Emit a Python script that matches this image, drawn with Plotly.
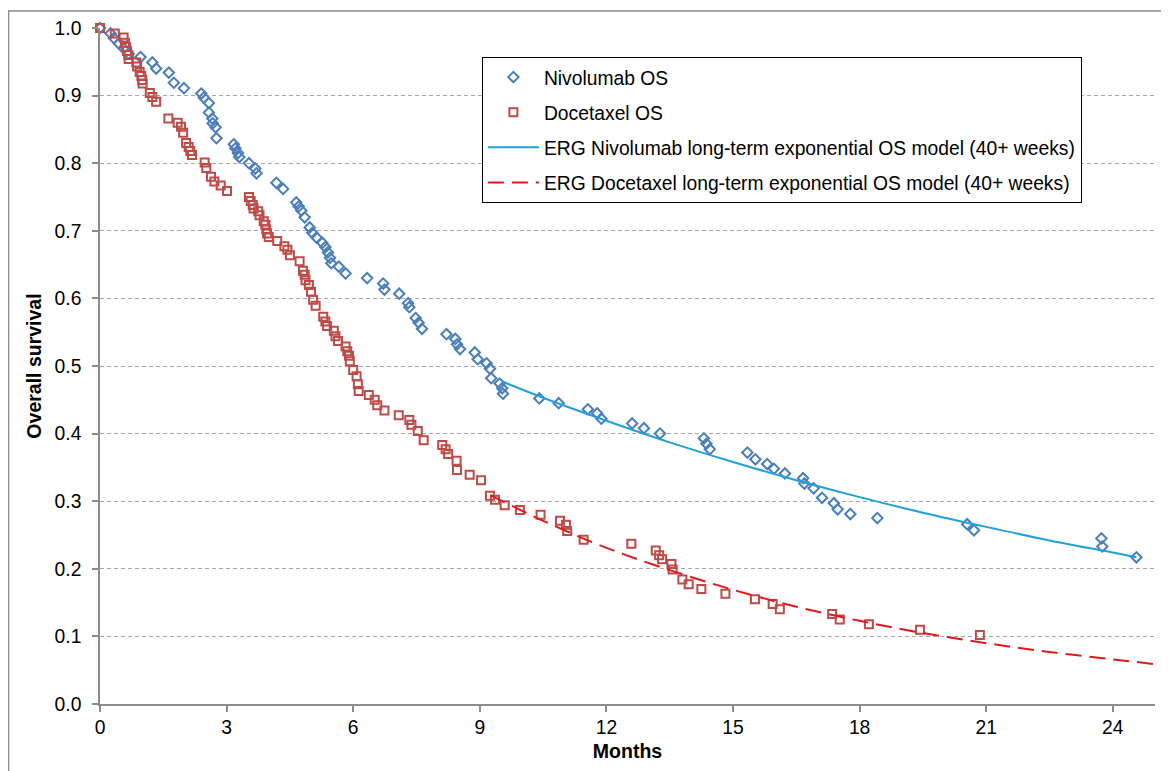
import plotly.graph_objects as go

# ---- data ----
niv_months = [0, 0.25, 0.33, 0.45, 0.56, 0.68, 0.96, 1.24, 1.33, 1.63,
              1.75, 1.99, 2.40, 2.46, 2.58, 2.58, 2.66, 2.67, 2.74, 2.76,
              3.17, 3.21, 3.27, 3.30, 3.53, 3.68, 3.71, 4.18, 4.34, 4.65,
              4.71, 4.77, 4.85, 4.97, 5.03, 5.13, 5.27, 5.34, 5.40, 5.45,
              5.48, 5.66, 5.82, 6.33, 6.71, 6.74, 7.09, 7.30, 7.33, 7.48,
              7.55, 7.63, 8.21, 8.42, 8.46, 8.53, 8.88, 8.95, 9.16, 9.24,
              9.27, 9.47, 9.53, 9.55, 10.41, 10.87, 11.56, 11.78, 11.88, 12.61,
              12.89, 13.27, 14.31, 14.37, 14.45, 15.34, 15.53, 15.81, 15.97, 16.23,
              16.66, 16.69, 16.91, 17.11, 17.39, 17.48, 17.78, 18.42, 20.55, 20.71,
              23.73, 23.75, 24.56]
niv_surv = [1.0, 0.992, 0.985, 0.977, 0.970, 0.962, 0.957, 0.949, 0.940, 0.934,
            0.919, 0.911, 0.903, 0.897, 0.889, 0.875, 0.866, 0.859, 0.853, 0.837,
            0.828, 0.822, 0.815, 0.809, 0.800, 0.792, 0.785, 0.771, 0.762, 0.742,
            0.736, 0.730, 0.720, 0.705, 0.697, 0.690, 0.682, 0.676, 0.668, 0.660,
            0.652, 0.647, 0.637, 0.630, 0.622, 0.613, 0.607, 0.593, 0.587, 0.571,
            0.564, 0.555, 0.547, 0.540, 0.532, 0.525, 0.520, 0.510, 0.504, 0.496,
            0.482, 0.474, 0.467, 0.459, 0.452, 0.445, 0.436, 0.430, 0.422, 0.415,
            0.408, 0.400, 0.393, 0.385, 0.377, 0.372, 0.362, 0.355, 0.348, 0.341,
            0.334, 0.326, 0.319, 0.305, 0.297, 0.288, 0.281, 0.275, 0.266, 0.257,
            0.245, 0.233, 0.217]

doc_months = [0, 0.35, 0.56, 0.59, 0.62, 0.64, 0.67, 0.68, 0.86, 0.88,
              0.94, 0.98, 1.00, 1.01, 1.18, 1.24, 1.33, 1.62, 1.84, 1.92,
              1.97, 2.04, 2.10, 2.14, 2.18, 2.48, 2.52, 2.63, 2.71, 2.86,
              3.01, 3.53, 3.57, 3.62, 3.64, 3.75, 3.78, 3.88, 3.92, 3.94,
              3.96, 4.00, 4.20, 4.37, 4.44, 4.50, 4.73, 4.81, 4.85, 4.87,
              4.95, 5.00, 5.05, 5.11, 5.29, 5.34, 5.38, 5.54, 5.58, 5.64,
              5.82, 5.86, 5.90, 5.92, 6.00, 6.08, 6.11, 6.13, 6.37, 6.51,
              6.57, 6.74, 7.08, 7.33, 7.38, 7.53, 7.67, 8.11, 8.19, 8.25,
              8.45, 8.46, 8.76, 9.03, 9.24, 9.36, 9.59, 9.95, 10.44, 10.90,
              11.04, 11.07, 11.46, 12.59, 13.17, 13.25, 13.32, 13.54, 13.57, 13.80,
              13.95, 14.25, 14.82, 15.52, 15.94, 16.11, 17.35, 17.53, 18.22, 19.43,
              20.85]
doc_surv = [1.0, 0.992, 0.986, 0.978, 0.972, 0.966, 0.960, 0.954, 0.949, 0.943,
            0.935, 0.929, 0.923, 0.918, 0.904, 0.898, 0.891, 0.866, 0.860, 0.854,
            0.845, 0.830, 0.824, 0.818, 0.812, 0.801, 0.793, 0.780, 0.773, 0.767,
            0.759, 0.750, 0.744, 0.738, 0.733, 0.729, 0.723, 0.714, 0.709, 0.702,
            0.696, 0.691, 0.685, 0.677, 0.672, 0.664, 0.655, 0.641, 0.635, 0.627,
            0.620, 0.610, 0.598, 0.589, 0.573, 0.566, 0.559, 0.552, 0.544, 0.537,
            0.529, 0.522, 0.515, 0.507, 0.494, 0.485, 0.473, 0.463, 0.457, 0.450,
            0.442, 0.434, 0.427, 0.420, 0.413, 0.404, 0.390, 0.383, 0.377, 0.370,
            0.360, 0.346, 0.339, 0.331, 0.308, 0.302, 0.294, 0.287, 0.280, 0.271,
            0.265, 0.256, 0.243, 0.237, 0.227, 0.220, 0.214, 0.207, 0.199, 0.184,
            0.177, 0.170, 0.163, 0.155, 0.148, 0.140, 0.133, 0.125, 0.118, 0.110,
            0.102]

niv_model_months = [9.53, 10.5, 12.0, 13.5, 15.0, 16.5, 18.0, 19.5, 21.0, 22.5, 24.0, 24.56]
niv_model_surv = [0.477, 0.453, 0.419, 0.387, 0.358, 0.331, 0.306, 0.283, 0.262, 0.242, 0.224, 0.217]

doc_model_months = [9.25, 10.5, 12.0, 13.5, 15.0, 16.5, 18.0, 19.5, 21.0, 22.5, 24.0, 25.0]
doc_model_surv = [0.309, 0.271, 0.231, 0.198, 0.169, 0.144, 0.123, 0.105, 0.090, 0.077, 0.066, 0.059]

x_ticks = [0, 3, 6, 9, 12, 15, 18, 21, 24]
y_ticks = [0.0, 0.1, 0.2, 0.3, 0.4, 0.5, 0.6, 0.7, 0.8, 0.9, 1.0]

FONT = "Liberation Sans, Arial, sans-serif"
FS = 19.3

fig = go.Figure()
fig.add_trace(go.Scatter(
    x=niv_months, y=niv_surv, mode="markers", name="Nivolumab OS",
    legendgroup="a", cliponaxis=False,
    marker=dict(symbol="diamond-open", size=8, color="#4a7ebb", line=dict(width=2, color="#4a7ebb")),
))
fig.add_trace(go.Scatter(
    x=doc_months, y=doc_surv, mode="markers", name="Docetaxel OS",
    legendgroup="b", cliponaxis=False,
    marker=dict(symbol="square-open", size=8, color="#be4b48", line=dict(width=2, color="#be4b48")),
))
fig.add_trace(go.Scatter(
    x=niv_model_months, y=niv_model_surv, mode="lines", line_shape="spline",
    name="ERG Nivolumab long-term exponential OS model (40+ weeks)",
    legendgroup="c", line=dict(color="#1fa0dc", width=2),
))
fig.add_trace(go.Scatter(
    x=doc_model_months, y=doc_model_surv, mode="lines", line_shape="spline",
    name="ERG Docetaxel long-term exponential OS model (40+ weeks)",
    legendgroup="d", line=dict(color="#e0181b", width=2, dash="16px,8px"),
))

fig.update_layout(
    width=1161, height=763,
    margin=dict(l=92, r=14, t=20, b=67),
    paper_bgcolor="white", plot_bgcolor="white",
    font=dict(family=FONT, size=FS, color="black"),
    showlegend=True,
    legend=dict(
        x=0.362, y=0.957, xanchor="left", yanchor="top",
        bgcolor="white", bordercolor="black", borderwidth=1,
        font=dict(family=FONT, size=FS, color="black"),
        tracegroupgap=7, traceorder="grouped", itemwidth=51,
    ),
    xaxis=dict(
        range=[0, 25], tickvals=x_ticks, ticktext=[str(v) for v in x_ticks],
        showgrid=False, zeroline=False, automargin=False,
        showline=True, linecolor="#8c8c8c", linewidth=1.5,
        ticks="outside", ticklen=6, tickcolor="#8c8c8c", tickwidth=1.5,
        ticklabelstandoff=-1,
        title=dict(text="<b>Months</b>", font=dict(family=FONT, size=19.5), standoff=7),
    ),
    yaxis=dict(
        range=[0, 1], tickvals=y_ticks, ticktext=["%.1f" % v for v in y_ticks],
        showgrid=True, gridcolor="#a6a6a6", gridwidth=1, griddash="4px,3px",
        zeroline=False, automargin=False,
        showline=True, linecolor="#8c8c8c", linewidth=1.5,
        ticks="outside", ticklen=6, tickcolor="#8c8c8c", tickwidth=1.5,
        ticklabelstandoff=7,
        title=dict(text="<b>Overall survival</b>", font=dict(family=FONT, size=19.5), standoff=8),
    ),
    shapes=[dict(type="rect", xref="paper", yref="paper",
                 x0=-0.0867, y0=-0.2, x1=1.05, y1=1.0251,
                 line=dict(color="#8c8c8c", width=1.5), fillcolor="rgba(0,0,0,0)", layer="below")],
)

fig.write_html("out.html")
